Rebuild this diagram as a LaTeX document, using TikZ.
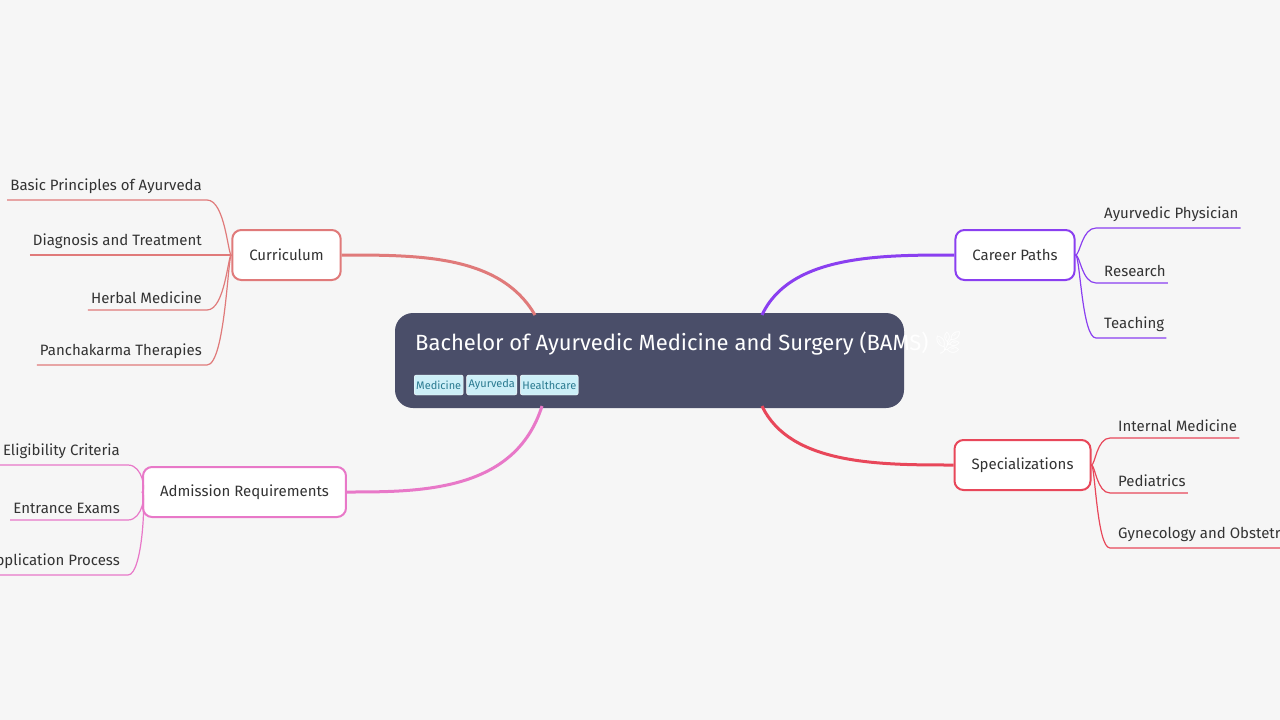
\documentclass[tikz,border=0pt]{standalone}
\usepackage{fontspec}
\usetikzlibrary{positioning}
\setmainfont{Fira Sans}
\newfontfamily\emojifont{Noto Emoji}
\definecolor{bgc}{HTML}{F6F6F6}
\definecolor{rootc}{HTML}{4A4E69}
\definecolor{curc}{HTML}{E07A7A}
\definecolor{carc}{HTML}{8A3FF0}
\definecolor{spec}{HTML}{E8475A}
\definecolor{admc}{HTML}{E878C8}
\definecolor{tagc}{HTML}{CDEFF8}
\definecolor{tagt}{HTML}{2A7A90}
\definecolor{txtc}{HTML}{333333}

\tikzset{
  topic/.style={draw=#1, line width=2pt, fill=white, rounded corners=9pt,
    minimum height=50pt, inner xsep=17pt, text=txtc,
    font=\fontsize{15}{18}\selectfont},
  leafr/.style={anchor=south east, inner xsep=0pt, inner ysep=6pt, text=txtc,
    font=\fontsize{15}{18}\selectfont},
  leafl/.style={anchor=south west, inner xsep=0pt, inner ysep=6pt, text=txtc,
    font=\fontsize{15}{18}\selectfont},
  tag/.style={fill=tagc, draw=white, rounded corners=2pt, text=tagt,
    inner sep=2pt, minimum height=20pt, font=\fontsize{11}{13}\selectfont},
  branch/.style={draw=#1, line width=3pt},
  twig/.style={draw=#1, line width=1.2pt}
}

\begin{document}
\begin{tikzpicture}[x=1pt,y=-1pt]
  \fill[bgc] (0,0) rectangle (1280,720);
  \useasboundingbox (0,0) rectangle (1280,720);

  % root
  \fill[rootc, rounded corners=18pt] (395,313) rectangle (904,408);
  \node[anchor=west, text=white, inner sep=0pt, font=\fontsize{22}{26}\selectfont]
    (root) at (415,343) {Bachelor of Ayurvedic Medicine and Surgery (BAMS) {\emojifont 🌿}};
  \node[tag, anchor=west] (tmed) at (414,385) {Medicine};
  \node[tag, right=3pt of tmed] (tayu) {Ayurveda};
  \node[tag, right=3pt of tayu] (thea) {Healthcare};
  \coordinate (rtl) at (535,315);
  \coordinate (rbl) at (542,406);
  \coordinate (rtr) at (762,315);
  \coordinate (rbr) at (762,406);

  % topics
  \node[topic=curc, minimum width=107pt] (cur) at (286.5,255) {Curriculum};
  \node[topic=carc, minimum width=114pt] (car) at (1015,255) {Career Paths};
  \node[topic=spec, minimum width=129pt] (spz) at (1022.5,465) {Specializations};
  \node[topic=admc, minimum width=189pt] (adm) at (244.5,492) {Admission Requirements};

  \draw[branch=curc] (rtl) .. controls (500,255) and (420,255) .. (cur.east);
  \draw[branch=carc] (rtr) .. controls (790,255) and (880,255) .. (car.west);
  \draw[branch=spec] (rbr) .. controls (790,465) and (880,465) .. (spz.west);
  \draw[branch=admc] (rbl) .. controls (515,492) and (420,492) .. (adm.east);

  % curriculum
  \foreach \t/\y/\n in {Basic Principles of Ayurveda/200/c1, Diagnosis and Treatment/255/c2,
      Herbal Medicine/310/c3, Panchakarma Therapies/365/c4}{
    \node[leafr] (\n) at (202,\y) {\t};
    \draw[twig=curc] ([xshift=-3pt]\n.south west) -- ([xshift=5pt]\n.south east)
      .. controls (225,\y) and (228,255) .. (cur.west);
  }
  % admission
  \foreach \t/\y/\n in {Eligibility Criteria/465/a1, Entrance Exams/520/a2,
      Application Process/575/a3}{
    \node[leafr] (\n) at (120,\y) {\t};
    \draw[twig=admc] ([xshift=-3pt]\n.south west) -- ([xshift=8pt]\n.south east)
      .. controls (143,\y) and (146,492) .. (adm.west);
  }
  % career paths
  \foreach \t/\y/\n in {Ayurvedic Physician/228/p1, Research/283/p2, Teaching/338/p3}{
    \node[leafl] (\n) at (1104,\y) {\t};
    \draw[twig=carc] ([xshift=2pt]\n.south east) -- ([xshift=-8pt]\n.south west)
      .. controls (1082,\y) and (1080,255) .. (car.east);
  }
  % specializations
  \foreach \t/\y/\n in {Internal Medicine/438/s1, Pediatrics/493/s2,
      Gynecology and Obstetrics/548/s3}{
    \node[leafl] (\n) at (1118,\y) {\t};
    \draw[twig=spec] ([xshift=2pt]\n.south east) -- ([xshift=-8pt]\n.south west)
      .. controls (1097,\y) and (1095,465) .. (spz.east);
  }
\end{tikzpicture}
\end{document}
